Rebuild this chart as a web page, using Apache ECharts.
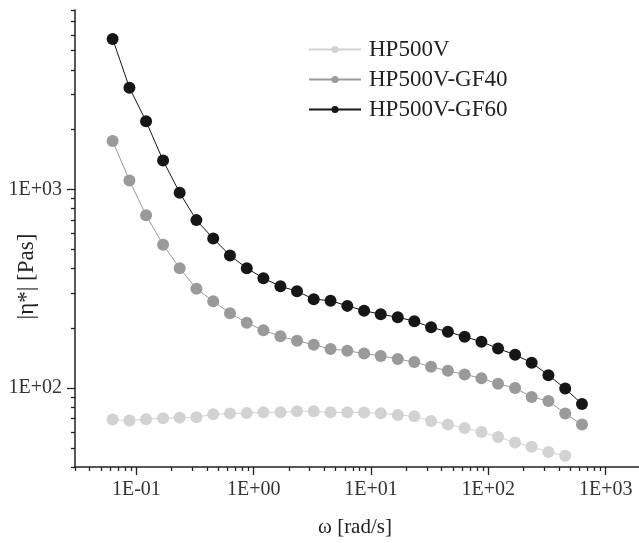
<!DOCTYPE html>
<html>
<head>
<meta charset="utf-8">
<script src="https://cdn.jsdelivr.net/npm/echarts@6/dist/echarts.min.js"></script>
<style>
  html, body { margin: 0; padding: 0; background: #fff; }
  #chart { width: 639px; height: 543px; }
</style>
</head>
<body>
<div id="chart"></div>
<script>
// 频率 ω [rad/s]
var omega = [0.0628, 0.0873, 0.121, 0.169, 0.234, 0.325, 0.452, 0.628, 0.873, 1.21, 1.69, 2.34, 3.25, 4.52, 6.28, 8.73,
             12.1, 16.9, 23.4, 32.5, 45.2, 62.8, 87.3, 121, 169, 234, 325, 452, 628];
// |η*| [Pas]
var hp500v = [69.3, 68.5, 69.6, 70.4, 70.9, 71.2, 73.7, 74.3, 74.8, 75.4, 75.4, 76.3, 76.3, 75.4, 75.4, 75.2, 74.6,
              73.1, 72.0, 68.2, 65.4, 62.9, 60.0, 56.6, 53.2, 50.6, 47.6, 45.6];
var gf40 = [1751, 1108, 740, 526, 401, 316, 273, 238, 213, 195, 182, 173, 165, 157, 154, 149, 145, 140, 135, 128,
            122, 117, 112, 105, 100, 90.1, 86, 74.3, 65.4];
var gf60 = [5723, 3252, 2201, 1397, 961, 700, 566, 465, 401, 357, 325, 307, 280, 275, 259, 245, 235, 227, 217, 202,
            192, 181, 171, 158, 147, 134, 116, 99.3, 83];

var seriesNames = ['HP500V', 'HP500V-GF40', 'HP500V-GF60'];
var seriesColors = ['#d2d2d2', '#9a9a9a', '#161616'];

var xMin = 0.03, xMax = 2000;
var yMin = 40, yMax = 8000;

var FONT = '"Liberation Serif", "DejaVu Serif", serif';

// 对数坐标的刻度: major=1×10^n, 其余为次刻度
function logTicks(lo, hi, major) {
    var out = [];
    for (var e = -3; e <= 4; e++) {
        for (var m = 1; m <= 9; m++) {
            var v = m * Math.pow(10, e);
            if (v >= lo * 0.999 && v <= hi * 1.001) {
                if (major ? m === 1 : m !== 1) out.push(Math.log10(v));
            }
        }
    }
    return out;
}

function sciLabel(v) {
    var e = Math.round(Math.log10(v));
    return '1E' + (e < 0 ? '-' : '+') + (Math.abs(e) < 10 ? '0' : '') + Math.abs(e);
}

function pairs(xs, ys) {
    var d = [];
    for (var i = 0; i < ys.length; i++) d.push([xs[i], ys[i]]);
    return d;
}

// 只画刻度的辅助轴
function tickAxis(pos, lo, hi, values, len) {
    return {
        type: 'value', position: pos,
        min: Math.log10(lo), max: Math.log10(hi),
        axisLine: { show: false, onZero: false },
        splitLine: { show: false },
        axisLabel: { show: false },
        axisTick: { show: true, inside: false, length: len, customValues: values,
                    lineStyle: { color: '#222', width: 1.3 } }
    };
}

var chart = echarts.init(document.getElementById('chart'));
var option = {
    backgroundColor: '#fff',
    animation: false,
    grid: { left: 75, top: 10, width: 566, height: 457, containLabel: false, outerBoundsMode: 'none' },
    legend: {
        orient: 'vertical',
        left: 303, top: 33,
        itemWidth: 52, itemHeight: 9, itemGap: 7,
        data: seriesNames,
        textStyle: { fontFamily: FONT, fontSize: 23, color: '#222', padding: [0, 0, 0, 3] }
    },
    xAxis: [
        {
            type: 'log', logBase: 10, min: xMin, max: xMax, position: 'bottom',
            name: 'ω [rad/s]', nameLocation: 'middle', nameGap: 50, nameMoveOverlap: false,
            nameTextStyle: { fontFamily: FONT, fontSize: 21, color: '#222', padding: [0, 6, 0, 0] },
            axisLine: { onZero: false, lineStyle: { color: '#222', width: 1.5 } },
            axisTick: { show: false },
            splitLine: { show: false },
            axisLabel: { fontFamily: FONT, fontSize: 20, color: '#333', margin: 13,
                         showMinLabel: false, showMaxLabel: false, formatter: sciLabel }
        },
        tickAxis('bottom', xMin, xMax, logTicks(xMin, xMax, false), 4),
        tickAxis('bottom', xMin, xMax, logTicks(xMin, xMax, true), 8)
    ],
    yAxis: [
        {
            type: 'log', logBase: 10, min: yMin, max: yMax, position: 'left',
            name: '|η*| [Pas]', nameLocation: 'middle', nameGap: 37, nameMoveOverlap: false,
            nameTextStyle: { fontFamily: FONT, fontSize: 23, color: '#222', padding: [0, 76, 0, 0] },
            axisLine: { onZero: false, lineStyle: { color: '#222', width: 1.5 } },
            axisTick: { show: false },
            splitLine: { show: false },
            axisLabel: { fontFamily: FONT, fontSize: 20, color: '#333', margin: 13,
                         showMinLabel: false, showMaxLabel: false, formatter: sciLabel }
        },
        tickAxis('left', yMin, yMax, logTicks(yMin, yMax, false), 4),
        tickAxis('left', yMin, yMax, logTicks(yMin, yMax, true), 8)
    ],
    series: [hp500v, gf40, gf60].map(function (vals, i) {
        return {
            name: seriesNames[i], type: 'line',
            xAxisIndex: 0, yAxisIndex: 0,
            data: pairs(omega, vals),
            symbol: 'circle', symbolSize: 12,
            showSymbol: true,
            itemStyle: { color: seriesColors[i] },
            lineStyle: { color: seriesColors[i], width: 1 },
            z: 2 + i
        };
    })
};
chart.setOption(option);
</script>
</body>
</html>
